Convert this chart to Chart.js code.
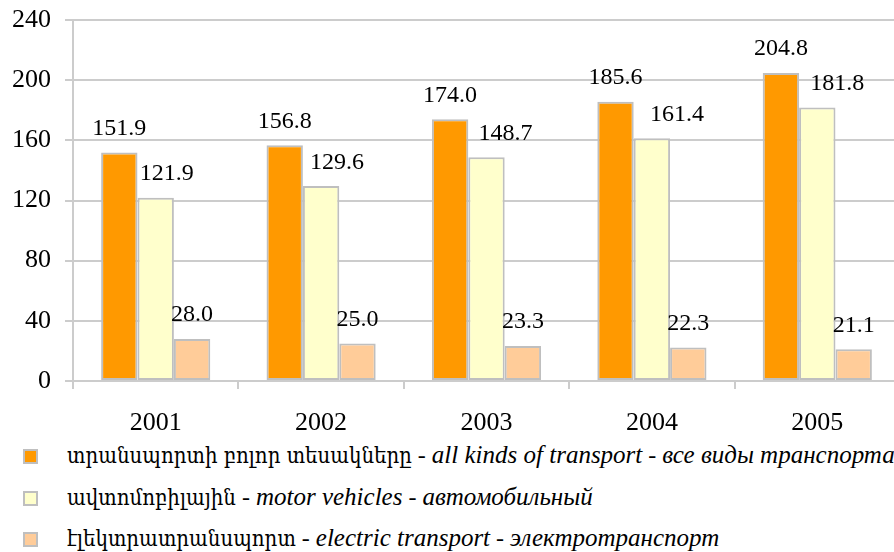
<!DOCTYPE html>
<html>
<head>
<meta charset="utf-8">
<script src="https://cdn.jsdelivr.net/npm/chart.js@4.4.0/dist/chart.umd.min.js"></script>
<style>
  html, body { margin: 0; padding: 0; background: #fff; overflow: hidden; }
  #wrap { position: absolute; left: 0; top: 0; width: 900px; height: 440px; }
  #legend {
    position: absolute; left: 0; top: 440px; width: 894px;
    font-family: "Liberation Serif", "DejaVu Serif";
    font-size: 24px; color: #000;
  }
  .row { position: absolute; left: 0; height: 20px; white-space: nowrap; }
  .box { position: absolute; left: 23px; top: 0; width: 11px; height: 11px; border: 2px solid #bfbfbf; }
  .txt { position: absolute; left: 67px; top: -8px; line-height: 28px; }
  .txt .hy { font-family: "DejaVu Serif Condensed", "DejaVu Serif"; font-size: 22px; }
  .txt i { font-style: italic; font-size: 25px; }
</style>
</head>
<body>
<div id="wrap"><canvas id="chart"></canvas></div>
<div id="legend"></div>
<script>
// passenger transport by kind, 2001-2005
const years = ['2001', '2002', '2003', '2004', '2005'];
const allTransport = [151.9, 156.8, 174.0, 185.6, 204.8];
const motorVehicles = [121.9, 129.6, 148.7, 161.4, 181.8];
const electricTransport = [28.0, 25.0, 23.3, 22.3, 21.1];
const yTicks = [0, 40, 80, 120, 160, 200, 240];

// legend text: armenian, separator, english, separator, russian
const legendParts = [
  ['տրանսպորտի բոլոր տեսակները', ' - ', 'all kinds of transport', ' - ', 'все виды транспорта'],
  ['ավտոմոբիլային', ' - ', 'motor vehicles', ' - ', 'автомобильный'],
  ['էլեկտրատրանսպորտ', ' - ', 'electric transport', ' - ', 'электротранспорт'],
];

const colors = ['#ff9900', '#ffffcc', '#ffcc99'];
const borderGray = '#bfbfbf';
const gridGray = '#cccccc';
const serif = '"Liberation Serif", "DejaVu Serif"';

// horizontal nudge of each value label, per dataset
const labelShift = [
  [0, 0, 0, 0, 0],
  [11, 16, 19, 25, 20],
  [0, 0, 0, 0, 0],
];

const valueLabels = {
  id: 'valueLabels',
  afterDatasetsDraw(chart) {
    const ctx = chart.ctx;
    ctx.save();
    ctx.font = '24px ' + serif;
    ctx.fillStyle = '#000';
    ctx.textAlign = 'center';
    ctx.textBaseline = 'alphabetic';
    chart.data.datasets.forEach((ds, di) => {
      chart.getDatasetMeta(di).data.forEach((bar, i) => {
        ctx.fillText(ds.data[i].toFixed(1), bar.x + labelShift[di][i], bar.y - 17.5);
      });
    });
    ctx.restore();
  }
};

const mkSet = (label, data, color) => ({
  label, data,
  backgroundColor: color,
  borderColor: borderGray,
  borderWidth: 2,
  borderSkipped: false,
  barPercentage: 1,
  categoryPercentage: 0.66,
});

new Chart(document.getElementById('chart'), {
  type: 'bar',
  data: {
    labels: years,
    datasets: [
      mkSet(legendParts[0].join(''), allTransport, colors[0]),
      mkSet(legendParts[1].join(''), motorVehicles, colors[1]),
      mkSet(legendParts[2].join(''), electricTransport, colors[2]),
    ],
  },
  options: {
    responsive: true,
    maintainAspectRatio: false,
    animation: false,
    layout: { padding: { top: 20, right: 0, left: 0, bottom: 0 } },
    plugins: { legend: { display: false }, tooltip: { enabled: false } },
    scales: {
      x: {
        offset: true,
        grid: { offset: true, drawOnChartArea: false, color: gridGray, lineWidth: 2, tickLength: 8 },
        border: { color: gridGray, width: 2 },
        ticks: { color: '#000', padding: 19, font: { family: serif, size: 26 } },
        afterFit(scale) { scale.height = 59; scale.paddingLeft = 0; scale.paddingRight = 0; },
      },
      y: {
        min: 0, max: 240,
        afterBuildTicks(scale) { scale.ticks = yTicks.map(v => ({ value: v })); },
        grid: { color: gridGray, lineWidth: 2, tickLength: 8 },
        border: { color: gridGray, width: 2 },
        ticks: { color: '#000', padding: 14, font: { family: serif, size: 26 } },
        afterFit(scale) { scale.width = 73; scale.paddingTop = 0; scale.paddingBottom = 0; },
      },
    },
  },
  plugins: [valueLabels],
});

// html legend under the chart (mixed upright / italic text)
const legendEl = document.getElementById('legend');
legendParts.forEach((p, i) => {
  const row = document.createElement('div');
  row.className = 'row';
  row.style.top = (9 + i * 41.5) + 'px';
  const box = document.createElement('span');
  box.className = 'box';
  box.style.background = colors[i];
  const txt = document.createElement('span');
  txt.className = 'txt';
  const hy = document.createElement('span');
  hy.className = 'hy';
  hy.textContent = p[0];
  const en = document.createElement('i');
  en.textContent = p[2];
  const ru = document.createElement('i');
  ru.textContent = p[4];
  txt.append(hy, p[1], en, p[3], ru);
  row.append(box, txt);
  legendEl.append(row);
});
</script>
</body>
</html>
